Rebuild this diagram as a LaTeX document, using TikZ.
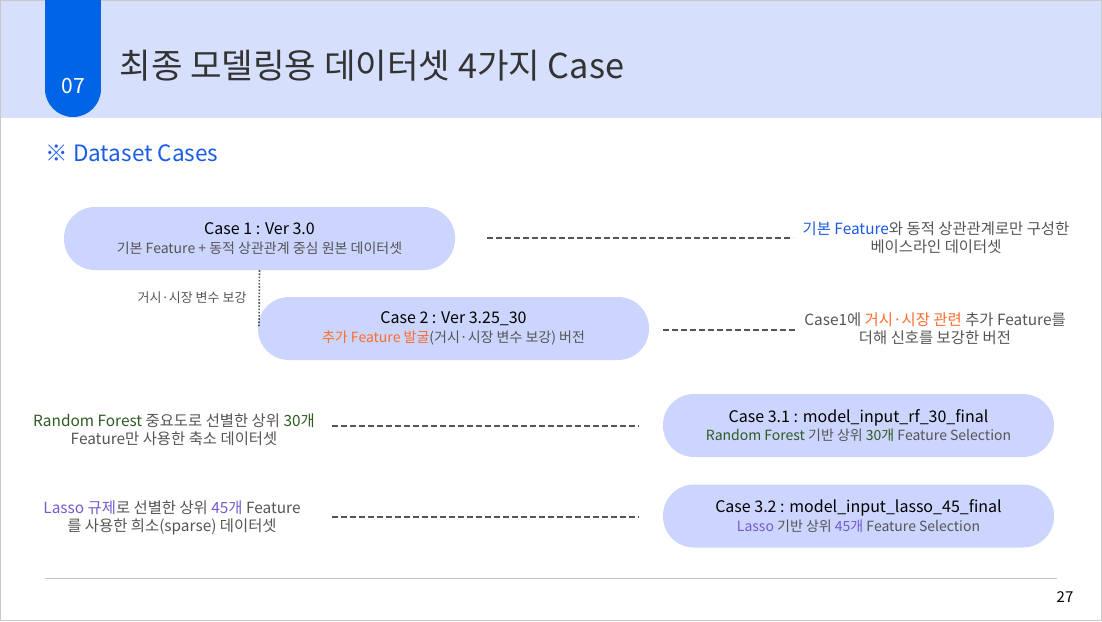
\documentclass[tikz,border=0pt]{standalone}
\usepackage{fontspec}
\setmainfont{Noto Sans CJK KR}
\usepackage{tikz}
\definecolor{bandblue}{HTML}{D6E0FD}
\definecolor{tabblue}{HTML}{0064E6}
\definecolor{boxblue}{HTML}{CCD5FD}
\definecolor{titlegray}{HTML}{333333}
\definecolor{subgray}{HTML}{555555}
\definecolor{linkblue}{HTML}{1A5CE6}
\definecolor{accorange}{HTML}{FF6B2B}
\definecolor{rfgreen}{HTML}{2F5A23}
\definecolor{lassopurple}{HTML}{7559D0}
\definecolor{rulegray}{HTML}{C8C8C8}

\begin{document}
\begin{tikzpicture}[
		x=1pt, y=-1pt,
		casebox/.style={fill=boxblue, rounded corners=31pt,
			minimum width=391pt, minimum height=63pt, align=center,
			inner sep=0pt, font=\fontsize{16}{18.5}\selectfont},
		note/.style={align=center, color=subgray,
			font=\fontsize{15.4}{18}\selectfont},
		link/.style={color=subgray, line width=1.6pt,
			dash pattern=on 6pt off 3pt}
	]
	% frame and header
	\useasboundingbox (0,0) rectangle (1102,621);
	\draw[rulegray, line width=1pt] (0.5,0.5) rectangle (1101.5,620.5);
	\fill[bandblue] (1,1) rectangle (1101,118);
	\fill[tabblue] (45,0) rectangle (101,89);
	\fill[tabblue] (73,89) circle[radius=28pt];
	\node[color=white, font=\fontsize{21}{24}\selectfont] (secnum)
		at (73,86) {07};
	\node[anchor=west, color=titlegray, font=\fontsize{34.3}{40}\selectfont] (title)
		at (116,66) {최종 모델링용 데이터셋 4가지 Case};
	\node[anchor=west, color=linkblue, font=\fontsize{22.5}{26}\selectfont] (subtitle)
		at (42,153) {※ Dataset Cases};

	% case boxes
	\node[casebox] (case1) at (259.5,238.5)
		{Case 1 : Ver 3.0\\
		 {\fontsize{14}{16}\selectfont\color{subgray}기본 Feature + 동적 상관관계 중심 원본 데이터셋}};
	\node[casebox] (case2) at (453.5,328.5)
		{Case 2 : Ver 3.25\_30\\
		 {\fontsize{14}{16}\selectfont\color{accorange}추가 Feature 발굴\color{subgray}(거시·시장 변수 보강) 버전}};
	\node[casebox] (case31) at (858.5,425.5)
		{Case 3.1 : model\_input\_rf\_30\_final\\
		 {\fontsize{14}{16}\selectfont\color{rfgreen}Random Forest \color{subgray}기반 상위 \color{rfgreen}30개 \color{subgray}Feature Selection}};
	\node[casebox] (case32) at (858.5,516)
		{Case 3.2 : model\_input\_lasso\_45\_final\\
		 {\fontsize{14}{16}\selectfont\color{lassopurple}Lasso \color{subgray}기반 상위 \color{lassopurple}45개 \color{subgray}Feature Selection}};

	% descriptions
	\node[note] (desc1) at (936,238)
		{\color{linkblue}기본 Feature\color{subgray}와 동적 상관관계로만 구성한\\베이스라인 데이터셋};
	\node[note] (desc2) at (935,329)
		{Case1에 \color{accorange}거시·시장 관련 \color{subgray}추가 Feature를\\더해 신호를 보강한 버전};
	\node[note] (desc31) at (174,430)
		{\color{rfgreen}Random Forest \color{subgray}중요도로 선별한 상위 \color{rfgreen}30개\\\color{subgray}Feature만 사용한 축소 데이터셋};
	\node[note] (desc32) at (172,518)
		{\color{lassopurple}Lasso 규제\color{subgray}로 선별한 상위 \color{lassopurple}45개 \color{subgray}Feature\\를 사용한 희소(sparse) 데이터셋};

	% connectors
	\coordinate (l1a) at (487,238);
	\coordinate (l1b) at (793,238);
	\coordinate (l2a) at (663,330);
	\coordinate (l2b) at (795,330);
	\coordinate (l3a) at (332,426);
	\coordinate (l3b) at (639,426);
	\coordinate (l4a) at (332,517);
	\coordinate (l4b) at (639,517);
	\draw[link] (l1a) -- (l1b);
	\draw[link] (l2a) -- (l2b);
	\draw[link] (l3a) -- (l3b);
	\draw[link] (l4a) -- (l4b);
	\coordinate (d2) at (259,327);
	\draw[color=subgray, line width=1.6pt, dash pattern=on 1.6pt off 1.6pt]
		(case1.south) -- (d2);
	\node[anchor=east, color=subgray, font=\fontsize{13}{15}\selectfont] (supplabel)
		at (250,298) {거시·시장 변수 보강};

	% footer
	\draw[rulegray, line width=1pt] (45,578) -- (1057,578);
	\node[color=black, font=\fontsize{15}{18}\selectfont] (pagenum)
		at (1065,597) {27};
\end{tikzpicture}
\end{document}
